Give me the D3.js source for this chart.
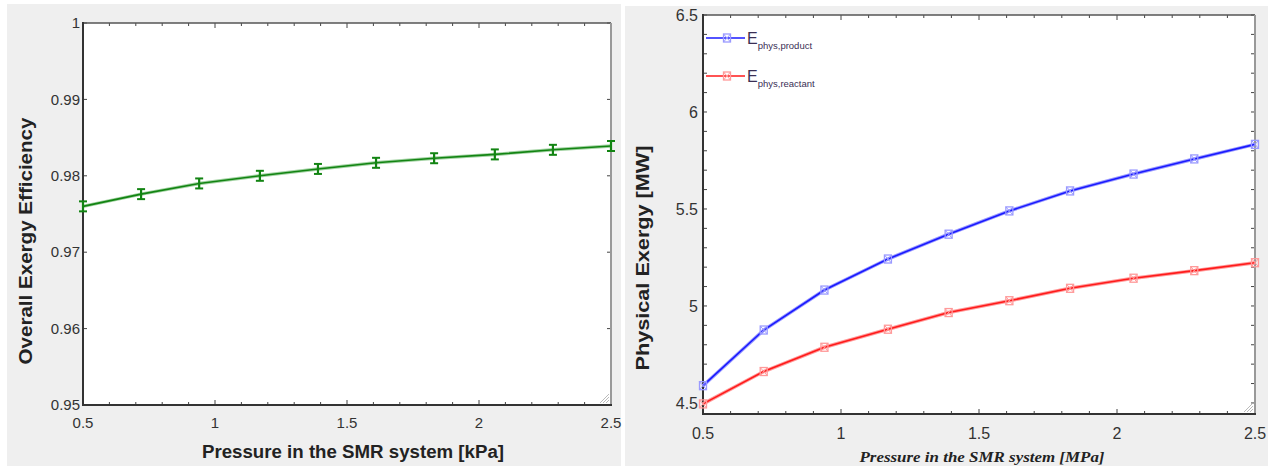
<!DOCTYPE html>
<html>
<head>
<meta charset="utf-8">
<script src="https://cdn.jsdelivr.net/npm/d3@7"></script>
<style>
body{margin:0;background:#fff}
svg{display:block}
</style>
</head>
<body>
<script>
// pressure points (same for both panels)
var pressure = [0.5, 0.72, 0.94, 1.17, 1.39, 1.61, 1.83, 2.06, 2.28, 2.5]
var efficiency = [0.9760, 0.9776, 0.9790, 0.9800, 0.9809, 0.9817, 0.9823, 0.9828, 0.9834, 0.9839]
var physProduct = [4.589, 4.876, 5.082, 5.242, 5.37, 5.49, 5.593, 5.68, 5.758, 5.833]
var physReactant = [4.495, 4.662, 4.787, 4.880, 4.966, 5.027, 5.091, 5.143, 5.182, 5.223]
var leftYTicks = [0.95, 0.96, 0.97, 0.98, 0.99, 1]
var rightYTicks = [4.5, 5, 5.5, 6, 6.5]
var xTicks = [0.5, 1, 1.5, 2, 2.5]

var svg = d3.select("body").append("svg").attr("width",1273).attr("height",472)

svg.append("rect").attr("x",7).attr("y",4).attr("width",614).attr("height",462).attr("fill","#efefef")
svg.append("rect").attr("x",625).attr("y",6).attr("width",643).attr("height",460).attr("fill","#efefef")

function minorTicks(lo,hi,step){
	var t=[]
	for(var v=lo;v<=hi+1e-9;v+=step) t.push(+v.toFixed(4))
	return t
}

function frame(g,x,y,opts)
{
	var x0=x.range()[0], x1=x.range()[1]
	var y0=y.range()[0], y1=y.range()[1]
	g.append("rect").attr("x",x0).attr("y",y1).attr("width",x1-x0).attr("height",y0-y1).attr("fill","#fff")

	// minor x ticks top & bottom
	var mx = minorTicks(0.5,2.5,0.1)
	g.selectAll(".mxb").data(mx).enter().append("line")
		.attr("x1",function(d){return x(d)}).attr("x2",function(d){return x(d)})
		.attr("y1",y0).attr("y2",function(d){return y0-(xTicks.indexOf(d)>=0?5:3)})
		.attr("stroke","#444").attr("stroke-width",1)
	g.selectAll(".mxt").data(mx).enter().append("line")
		.attr("x1",function(d){return x(d)}).attr("x2",function(d){return x(d)})
		.attr("y1",y1).attr("y2",function(d){return y1+(xTicks.indexOf(d)>=0?5:3)})
		.attr("stroke","#444").attr("stroke-width",1)

	var yt = opts.yMinor
	g.selectAll(".myl").data(yt).enter().append("line")
		.attr("x1",x0).attr("x2",x0+4)
		.attr("y1",function(d){return y(d)}).attr("y2",function(d){return y(d)})
		.attr("stroke","#444").attr("stroke-width",1)
	g.selectAll(".myr").data(yt).enter().append("line")
		.attr("x1",x1).attr("x2",x1-4)
		.attr("y1",function(d){return y(d)}).attr("y2",function(d){return y(d)})
		.attr("stroke","#444").attr("stroke-width",1)

	// box
	g.append("line").attr("x1",x0).attr("x2",x1).attr("y1",y1).attr("y2",y1).attr("stroke","#555").attr("stroke-width",1.3)
	g.append("line").attr("x1",x1).attr("x2",x1).attr("y1",y1).attr("y2",y0).attr("stroke","#999").attr("stroke-width",2)
	g.append("line").attr("x1",x0).attr("x2",x0).attr("y1",y1-1).attr("y2",y0+1).attr("stroke","#333").attr("stroke-width",2)
	g.append("line").attr("x1",x0-1).attr("x2",x1+1).attr("y1",y0).attr("y2",y0).attr("stroke","#333").attr("stroke-width",2)

	// resize grip
	for(var k=0;k<4;k++){
		g.append("line").attr("x1",x1-2-k*3).attr("y1",y0-2).attr("x2",x1-2).attr("y2",y0-2-k*3)
			.attr("stroke","#aaa").attr("stroke-width",0.8)
	}

	// tick labels
	g.selectAll(".xl").data(xTicks).enter().append("text")
		.attr("x",function(d){return x(d)}).attr("y",y0+opts.xLabelDy)
		.attr("text-anchor","middle").attr("font-family","Arial, 'Liberation Sans', sans-serif")
		.attr("font-size",opts.tickSize).attr("fill","#333")
		.text(function(d){return d})
	g.selectAll(".yl").data(opts.yTicks).enter().append("text")
		.attr("x",x0-opts.yLabelDx).attr("y",function(d){return y(d)}).attr("dy","0.35em")
		.attr("text-anchor","end").attr("font-family","Arial, 'Liberation Sans', sans-serif")
		.attr("font-size",opts.tickSize).attr("fill","#333")
		.text(function(d){return d})
}

function series(g,x,y,vals,color,light,marker)
{
	var pts = pressure.map(function(p,i){return [p,vals[i]]})
	var line = d3.line().x(function(d){return x(d[0])}).y(function(d){return y(d[1])})
	g.append("path").attr("d",line(pts)).attr("fill","none").attr("stroke",light).attr("stroke-width",3.5)
	g.append("path").attr("d",line(pts)).attr("fill","none").attr("stroke",color).attr("stroke-width",1.6)
	var m = g.selectAll(".mk"+color.slice(1)).data(pts).enter().append("g")
		.attr("transform",function(d){return "translate("+x(d[0])+","+y(d[1])+")"})
	drawMarker(m,color,light,marker)
}

function drawMarker(m,color,light,marker)
{
	if(marker=="bar"){
		m.append("line").attr("x1",0).attr("x2",0).attr("y1",-5).attr("y2",5).attr("stroke",color).attr("stroke-width",2.2)
		m.append("line").attr("x1",-4).attr("x2",4).attr("y1",-5).attr("y2",-5).attr("stroke",color).attr("stroke-width",2)
		m.append("line").attr("x1",-4).attr("x2",4).attr("y1",5).attr("y2",5).attr("stroke",color).attr("stroke-width",2)
	} else {
		m.append("rect").attr("x",-3.5).attr("y",-4).attr("width",7).attr("height",8)
			.attr("fill","none").attr("stroke",light).attr("stroke-width",1.3)
		m.append("line").attr("x1",-3.5).attr("x2",3.5).attr("y1",-4).attr("y2",4).attr("stroke",light).attr("stroke-width",1)
		m.append("line").attr("x1",3.5).attr("x2",-3.5).attr("y1",-4).attr("y2",4).attr("stroke",light).attr("stroke-width",1)
	}
}

// ---- left panel
var xL = d3.scaleLinear().domain([0.5,2.5]).range([83,611])
var yL = d3.scaleLinear().domain([0.95,1]).range([405,23])
var gL = svg.append("g")
frame(gL,xL,yL,{yTicks:leftYTicks,yMinor:leftYTicks,tickSize:15,xLabelDy:23,yLabelDx:3})
series(gL,xL,yL,efficiency,"#128412","#a3d3a3","bar")

gL.append("text").attr("x",353).attr("y",458).attr("text-anchor","middle")
	.attr("font-family","Arial, 'Liberation Sans', sans-serif").attr("font-weight","bold").attr("font-size",18).attr("fill","#222")
	.attr("textLength",302).attr("lengthAdjust","spacingAndGlyphs")
	.text("Pressure in the SMR system [kPa]")
gL.append("text").attr("transform","translate(32,241) rotate(-90)").attr("text-anchor","middle")
	.attr("font-family","Arial, 'Liberation Sans', sans-serif").attr("font-weight","bold").attr("font-size",19).attr("fill","#222")
	.attr("textLength",247).attr("lengthAdjust","spacingAndGlyphs")
	.text("Overall Exergy Efficiency")

// ---- right panel
var xR = d3.scaleLinear().domain([0.5,2.5]).range([703,1255])
var yR = d3.scaleLinear().domain([4.443,6.5]).range([414,15])
var gR = svg.append("g")
frame(gR,xR,yR,{yTicks:rightYTicks,yMinor:minorTicks(4.5,6.5,0.1),tickSize:16,xLabelDy:25,yLabelDx:5})
series(gR,xR,yR,physReactant,"#ff1a1a","#ff9a9a","box")
series(gR,xR,yR,physProduct,"#1a1aff","#9a9aff","box")

gR.append("text").attr("x",982).attr("y",462).attr("text-anchor","middle")
	.attr("font-family","'Liberation Serif', 'Times New Roman', serif").attr("font-weight","bold").attr("font-style","italic").attr("font-size",15).attr("fill","#222")
	.attr("textLength",245).attr("lengthAdjust","spacingAndGlyphs")
	.text("Pressure in the SMR system [MPa]")
gR.append("text").attr("transform","translate(649,258) rotate(-90)").attr("text-anchor","middle")
	.attr("font-family","Arial, 'Liberation Sans', sans-serif").attr("font-weight","bold").attr("font-size",19).attr("fill","#222")
	.attr("textLength",225).attr("lengthAdjust","spacingAndGlyphs")
	.text("Physical Exergy [MW]")

// legend
var legendItems = [["phys,product","#1a1aff","#9a9aff"],["phys,reactant","#ff1a1a","#ff9a9a"]]
var lg = gR.selectAll(".leg").data(legendItems).enter().append("g")
	.attr("transform",function(d,i){return "translate(706,"+(38+i*38)+")"})
lg.append("line").attr("x1",0).attr("x2",39).attr("y1",0).attr("y2",0)
	.attr("stroke",function(d){return d[1]}).attr("stroke-width",1.6)
lg.each(function(d){
	var m=d3.select(this).append("g").attr("transform","translate(21,0)")
	drawMarker(m,d[1],d[2],"box")
})
var lt = lg.append("text").attr("x",41).attr("y",6)
	.attr("font-family","Arial, 'Liberation Sans', sans-serif").attr("fill","#3a2f55")
lt.append("tspan").attr("font-size",16).text("E")
lt.append("tspan").attr("font-size",9.5).attr("dy",5).text(function(d){return d[0]})
</script>
</body>
</html>
